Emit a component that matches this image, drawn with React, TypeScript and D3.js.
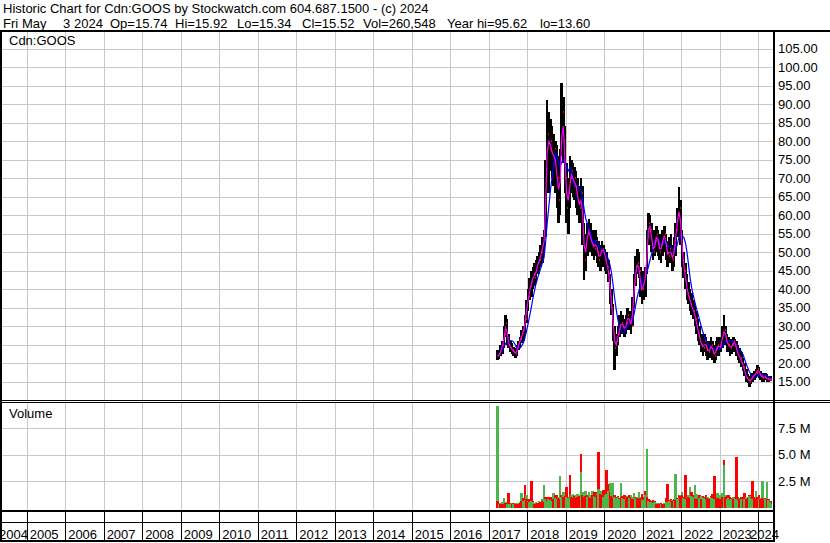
import React, { useRef, useEffect } from "react";
import * as d3 from "d3";

const headerLine1 =
  "Historic Chart for Cdn:GOOS by Stockwatch.com 604.687.1500 - (c) 2024";
const headerLine2 = ["Fri", "May", "3", "2024", "Op=15.74", "Hi=15.92", "Lo=15.34", "Cl=15.52", "Vol=260,548", "Year hi=95.62", "lo=13.60"];
const symbolLabel = "Cdn:GOOS";
const volumeLabel = "Volume";

const yearLabels = d3.range(2004, 2025);
const priceTicks = [15, 20, 25, 30, 35, 40, 45, 50, 55, 60, 65, 70, 75, 80, 85, 90, 95, 100, 105];
const volumeTicks = [2.5, 5, 7.5]; // millions

// half-month bars, first one starts at the IPO (16 Mar 2017), last one ends 3 May 2024
const firstYear = 2017;
const firstMonth = 2;
const lastDate = new Date(2024, 4, 4);

const highs = [
  23.5, 23.5, 25, 26, 30, 33, 32, 28, 26, 25.5, 24.5, 24, 25, 26, 27, 29, 30, 33, 37, 40,
  43, 45, 46, 47, 48, 49, 50, 52, 54, 56, 75, 91, 88, 86, 84, 82, 80, 79, 76, 78,
  95.6, 92, 84, 74, 70, 76, 75, 74, 73, 72, 70, 68, 70, 68, 58, 55, 58, 59, 58, 56,
  55, 56, 54, 53, 52, 53, 52, 51, 50, 48, 44, 40, 36, 30, 28, 30, 33, 34, 33, 32,
  33, 35, 34, 33, 38, 44, 49, 51, 50, 46, 44, 45, 46, 56, 60.5, 60, 58, 55, 56, 57,
  56, 55, 54, 56, 57, 55, 53, 54, 55, 52, 54, 58, 62, 67.7, 64, 56, 50, 47, 44, 42,
  40, 39, 37, 36, 34, 32, 30, 28, 27, 28, 27, 26, 26, 27, 26, 25, 26, 27, 26, 27,
  30, 33, 30, 28, 27, 26, 26.5, 27, 26.5, 26, 25, 24, 23, 21.5, 20, 18.5, 17, 16.5, 17, 17.5,
  18, 18.5, 19.5, 19, 18, 17.5, 17, 17.5, 17, 16.5, 16.5, 15.92,
];
const lows = [
  21, 21.2, 22, 22.5, 24, 27, 25, 24, 23, 22.5, 22, 21.4, 22, 23.5, 24.5, 25.5, 26, 28, 31, 34,
  37, 38, 40, 41, 42, 44, 44, 46, 47, 50, 54, 70, 66, 72, 70, 68, 66, 62, 58, 60,
  76, 74, 66, 58, 55, 62, 66, 65, 64, 62, 60, 58, 60, 52, 42.5, 45, 49, 52, 50, 49,
  48, 49, 47, 46, 45, 47, 46, 45, 44, 42, 36, 33, 26, 18.2, 22, 25, 27, 28, 28, 27,
  28, 29, 29, 28, 30, 35, 41, 44, 43, 38, 36, 37, 38, 44, 52, 52, 50, 48, 49, 50,
  49, 48, 47, 49, 50, 48, 46, 47, 47, 45, 46, 49, 54, 56, 52, 46, 43, 40, 37, 36,
  34, 33, 32, 30, 28, 26, 25, 23, 22, 23, 22, 21, 21.5, 22, 21, 20, 21, 22, 22, 23,
  24, 26, 25, 23, 23, 22, 22.5, 23, 23, 22, 21, 20, 19, 18, 16.5, 15, 14.6, 13.6, 14.5, 15,
  15.5, 16, 16.5, 16, 15.5, 15, 15, 15.5, 15, 15, 15.2, 15.34,
];
const closes = [
  22, 22.5, 24, 25, 28, 31, 26, 25, 24, 23.5, 23, 22.5, 24, 25.5, 26.5, 28, 29, 32, 36, 38,
  41, 42, 44, 43, 46, 47, 48, 50, 52, 54, 72, 82, 78, 80, 74, 78, 72, 70, 64, 74,
  88, 80, 70, 62, 66, 70, 72, 68, 70, 66, 64, 62, 66, 56, 48, 52, 56, 55, 53, 52,
  51, 53, 50, 48, 50, 51, 50, 48, 46, 44, 38, 35, 28, 24, 26, 28, 30, 31, 30, 29,
  31, 33, 31, 30, 36, 42, 46, 47, 45, 40, 40, 42, 44, 54, 58, 56, 52, 50, 53, 55,
  52, 50, 52, 54, 55, 50, 49, 51, 49, 48, 52, 56, 60, 62, 55, 48, 45, 42, 39, 38,
  36, 35, 34, 32, 30, 28, 26, 25, 24, 26, 24, 23, 24, 25, 23, 22, 24, 25, 24, 25,
  28, 29, 27, 25, 25, 24, 25, 26, 25, 23, 22, 21.5, 20, 19, 17, 16, 15.5, 15, 16, 16.5,
  17, 17.5, 18.5, 17, 16.5, 16, 16.5, 16, 15.8, 15.5, 15.8, 15.52,
];
// tallest up-day (green) and down-day (red) volume in each half month, millions
const volUp = [
  9.6, 0.3, 0.4, 0.5, 0.9, 0.5, 0.3, 0.3, 0.3, 0.4, 0.3, 0.4, 0.3, 0.4, 0.5, 1.35, 0.6, 0.7, 1.2, 0.6,
  0.5, 0.6, 0.5, 0.4, 0.5, 0.4, 0.6, 0.5, 0.8, 2.1, 0.8, 0.6, 0.8, 0.7, 0.6, 1.35, 0.9, 0.8, 1.0, 3.0,
  1.0, 1.5, 1.2, 1.0, 0.9, 1.0, 1.2, 1.3, 1.2, 1.1, 1.3, 1.2, 3.4, 1.5, 1.3, 1.6, 1.0, 1.5, 1.2, 1.6,
  1.1, 1.0, 1.3, 1.8, 1.6, 1.5, 1.0, 1.2, 1.3, 1.6, 2.3, 2.3, 2.3, 1.0, 0.9, 1.0, 0.8, 2.3, 0.9, 0.8,
  1.0, 1.1, 0.9, 1.2, 1.0, 1.35, 0.9, 1.0, 1.5, 1.0, 0.8, 0.7, 1.2, 5.5, 0.6, 0.5, 0.5, 0.4, 0.5, 0.4,
  0.3, 0.4, 0.3, 0.3, 0.4, 0.5, 0.5, 0.6, 0.5, 0.7, 0.6, 3.2, 0.8, 0.9, 1.2, 1.5, 0.9, 0.8, 1.0, 1.2,
  1.9, 1.1, 1.0, 2.1, 1.3, 1.0, 0.9, 1.1, 1.0, 0.9, 0.8, 1.0, 0.9, 1.0, 0.9, 0.8, 1.0, 1.35, 1.0, 1.2,
  1.4, 4.0, 1.2, 0.8, 0.9, 0.7, 0.8, 1.0, 0.9, 0.8, 0.7, 0.9, 0.8, 0.9, 0.8, 1.0, 0.9, 1.1, 0.9, 0.8,
  1.0, 1.6, 1.0, 0.8, 0.9, 2.5, 0.9, 0.8, 2.4, 0.7, 0.5, 0.3,
];
const volDown = [
  0.6, 0.4, 0.3, 0.3, 0.3, 0.4, 0.4, 1.35, 0.4, 0.3, 0.4, 0.3, 0.3, 0.3, 0.4, 0.6, 0.9, 2.1, 0.8, 0.5,
  0.8, 2.5, 0.6, 0.3, 0.3, 0.4, 0.4, 0.5, 0.6, 0.5, 1.0, 1.0, 1.0, 1.0, 1.0, 0.8, 1.2, 1.2, 0.9, 0.8,
  1.2, 1.0, 1.1, 1.9, 1.0, 3.1, 1.0, 0.9, 1.1, 0.9, 1.0, 1.1, 5.1, 1.2, 1.0, 1.1, 1.2, 1.0, 0.9, 1.2,
  1.5, 1.5, 1.2, 5.3, 1.3, 1.2, 1.7, 1.5, 3.55, 2.2, 1.5, 1.1, 1.0, 1.2, 1.0, 1.1, 0.9, 1.0, 1.1, 1.2,
  0.9, 1.0, 1.2, 1.0, 0.8, 0.8, 1.0, 0.9, 0.8, 0.9, 1.3, 1.0, 1.6, 1.0, 0.8, 0.7, 0.6, 0.7, 0.6, 0.3,
  0.3, 0.3, 0.4, 0.3, 0.3, 0.9, 2.2, 0.7, 0.8, 0.6, 0.8, 0.7, 0.9, 1.2, 1.1, 1.2, 1.0, 3.1, 0.9, 1.0,
  0.9, 1.5, 1.2, 0.9, 0.8, 0.9, 1.2, 0.8, 1.1, 1.0, 1.2, 0.9, 0.8, 1.1, 1.3, 3.0, 1.0, 0.9, 0.9, 0.8,
  1.0, 4.5, 1.0, 1.1, 1.2, 1.0, 0.9, 0.8, 1.0, 4.8, 1.0, 0.8, 1.0, 0.9, 1.35, 0.8, 0.9, 1.2, 1.0, 2.5,
  1.0, 0.8, 1.0, 1.2, 0.8, 0.9, 0.8, 0.9, 0.8, 0.8, 0.6, 0.5,
];

const FONT = "'Liberation Sans', Arial, sans-serif";
const GRID = "#c8c8c8";

const App: React.FC = () => {
  const svgRef = useRef<SVGSVGElement>(null);

  useEffect(() => {
    if (!svgRef.current) return;
    const svg = d3.select(svgRef.current);
    svg.selectAll("*").remove();

    const W = 830;
    const H = 543;
    const plotRight = 773;
    const priceTop = 32;
    const priceBottom = 400;
    const volTop = 403;
    const volBottom = 510;

    const x = d3
      .scaleTime()
      .domain([new Date(2004, 3, 23), new Date(2024, 4, 19)])
      .range([0, plotRight]);
    const yPrice = d3.scaleLinear().domain([10.08, 109.5]).range([priceBottom, priceTop]);
    const yVol = d3.scaleLinear().domain([0, 10]).range([507.5, 402]);

    const periodStart = (i: number) =>
      i % 2 === 0
        ? new Date(firstYear, firstMonth + i / 2, 16)
        : new Date(firstYear, firstMonth + (i + 1) / 2, 1);
    const periodEnd = (i: number) => {
      const e = periodStart(i + 1);
      return e > lastDate ? lastDate : e;
    };
    const bars = closes.map((c, i) => {
      const x0 = x(periodStart(i));
      const x1 = x(periodEnd(i));
      return { i, x0, x1, xm: (x0 + x1) / 2, h: highs[i], l: lows[i], c };
    });

    // moving averages of the closes (short = magenta, long = blue)
    const movingAvg = (n: number) =>
      closes.map((_, i) => d3.mean(closes.slice(Math.max(0, i - n + 1), i + 1)) as number);
    const maShort = movingAvg(2);
    const maLong = movingAvg(7);

    svg.append("rect").attr("width", W).attr("height", H).attr("fill", "#fff");

    const crisp = (v: number) => Math.round(v) + 0.5;
    const grid = svg.append("g").attr("stroke", GRID).attr("stroke-width", 1).attr("shape-rendering", "crispEdges");

    priceTicks.forEach((t) => {
      grid.append("line").attr("x1", 0).attr("x2", plotRight).attr("y1", crisp(yPrice(t))).attr("y2", crisp(yPrice(t)));
    });
    volumeTicks.forEach((t) => {
      grid.append("line").attr("x1", 0).attr("x2", plotRight).attr("y1", crisp(yVol(t))).attr("y2", crisp(yVol(t)));
    });
    const yearLines = yearLabels.filter((y) => y > 2004).map((y) => x(new Date(y, 0, 1)));
    yearLines.forEach((xv) => {
      grid.append("line").attr("x1", crisp(xv)).attr("x2", crisp(xv)).attr("y1", priceTop).attr("y2", priceBottom);
      grid.append("line").attr("x1", crisp(xv)).attr("x2", crisp(xv)).attr("y1", volTop).attr("y2", volBottom);
    });

    const px0 = (b: { x0: number }) => Math.floor(b.x0);
    const pw = (b: { x0: number; x1: number }) => Math.max(1, Math.ceil(b.x1) - Math.floor(b.x0));

    // volume
    const vol = svg.append("g").attr("shape-rendering", "crispEdges");
    bars.forEach((b) => {
      const items = [
        { v: volUp[b.i], color: "#4cb64c" },
        { v: volDown[b.i], color: "#ff0000" },
      ].sort((a, c) => c.v - a.v);
      items.forEach((it) => {
        vol
          .append("rect")
          .attr("x", px0(b))
          .attr("width", pw(b))
          .attr("y", yVol(it.v))
          .attr("height", yVol(0) - yVol(it.v))
          .attr("fill", it.color);
      });
    });

    // price bars
    const price = svg.append("g").attr("shape-rendering", "crispEdges");
    price
      .selectAll("rect.hl")
      .data(bars)
      .join("rect")
      .attr("class", "hl")
      .attr("x", px0)
      .attr("width", pw)
      .attr("y", (d) => yPrice(d.h))
      .attr("height", (d) => Math.max(1, yPrice(d.l) - yPrice(d.h)))
      .attr("fill", "#000");
    price
      .selectAll("rect.cl")
      .data(bars)
      .join("rect")
      .attr("class", "cl")
      .attr("x", (d) => Math.round(d.x1))
      .attr("width", 1)
      .attr("y", (d) => yPrice(d.c) - 1)
      .attr("height", 2)
      .attr("fill", "#ff0000");

    const lineGen = (vals: number[]) =>
      d3
        .line<(typeof bars)[number]>()
        .x((d) => d.xm)
        .y((d) => yPrice(vals[d.i]))(bars);
    svg.append("path").attr("d", lineGen(maLong)).attr("fill", "none").attr("stroke", "#0000ff").attr("stroke-width", 1.2);
    svg.append("path").attr("d", lineGen(maShort)).attr("fill", "none").attr("stroke", "#ff00ff").attr("stroke-width", 1.2);

    // frame
    const frame = svg.append("g").attr("fill", "#000").attr("shape-rendering", "crispEdges");
    frame.append("rect").attr("x", 0).attr("y", 30).attr("width", W).attr("height", 2);
    frame.append("rect").attr("x", 0).attr("y", 30).attr("width", 2).attr("height", 512);
    frame.append("rect").attr("x", 0).attr("y", 400).attr("width", W).attr("height", 1);
    frame.append("rect").attr("x", 0).attr("y", 402).attr("width", W).attr("height", 1);
    frame.append("rect").attr("x", 0).attr("y", 510).attr("width", plotRight + 2).attr("height", 2);
    frame.append("rect").attr("x", 0).attr("y", 522).attr("width", plotRight + 2).attr("height", 1);
    frame.append("rect").attr("x", 0).attr("y", 540).attr("width", plotRight + 2).attr("height", 2);
    frame.append("rect").attr("x", plotRight).attr("y", 30).attr("width", 2).attr("height", 512);
    yearLines.forEach((xv) => {
      frame.append("rect").attr("x", Math.round(xv)).attr("y", 510).attr("width", 1).attr("height", 31);
    });

    // texts
    const text = (tx: number, ty: number, s: string, baseline = "alphabetic") =>
      svg
        .append("text")
        .attr("x", tx)
        .attr("y", ty)
        .attr("font-family", FONT)
        .attr("font-size", 13)
        .attr("fill", "#000")
        .attr("dominant-baseline", baseline)
        .style("white-space", "pre")
        .text(s);

    text(3, 13, headerLine1);
    const line2X = [3, 22, 63, 74, 110, 175, 237, 302, 363, 447, 540];
    headerLine2.forEach((s, k) => text(line2X[k], 27.5, s));
    text(9, 45, symbolLabel);
    text(9, 418, volumeLabel);

    priceTicks.forEach((t) => text(778, yPrice(t), t.toFixed(2), "central"));
    volumeTicks.forEach((t) => text(778, yVol(t), `${t.toFixed(1)} M`, "central"));

    yearLabels.forEach((y) => {
      const tx = Math.min(750, Math.max(-1, x(new Date(y, 0, 1)) + 3));
      text(tx, 538.5, String(y));
    });
  }, []);

  return (
    <svg
      ref={svgRef}
      width={830}
      height={543}
      style={{ position: "absolute", left: 0, top: 0, display: "block" }}
    />
  );
};

export default App;
